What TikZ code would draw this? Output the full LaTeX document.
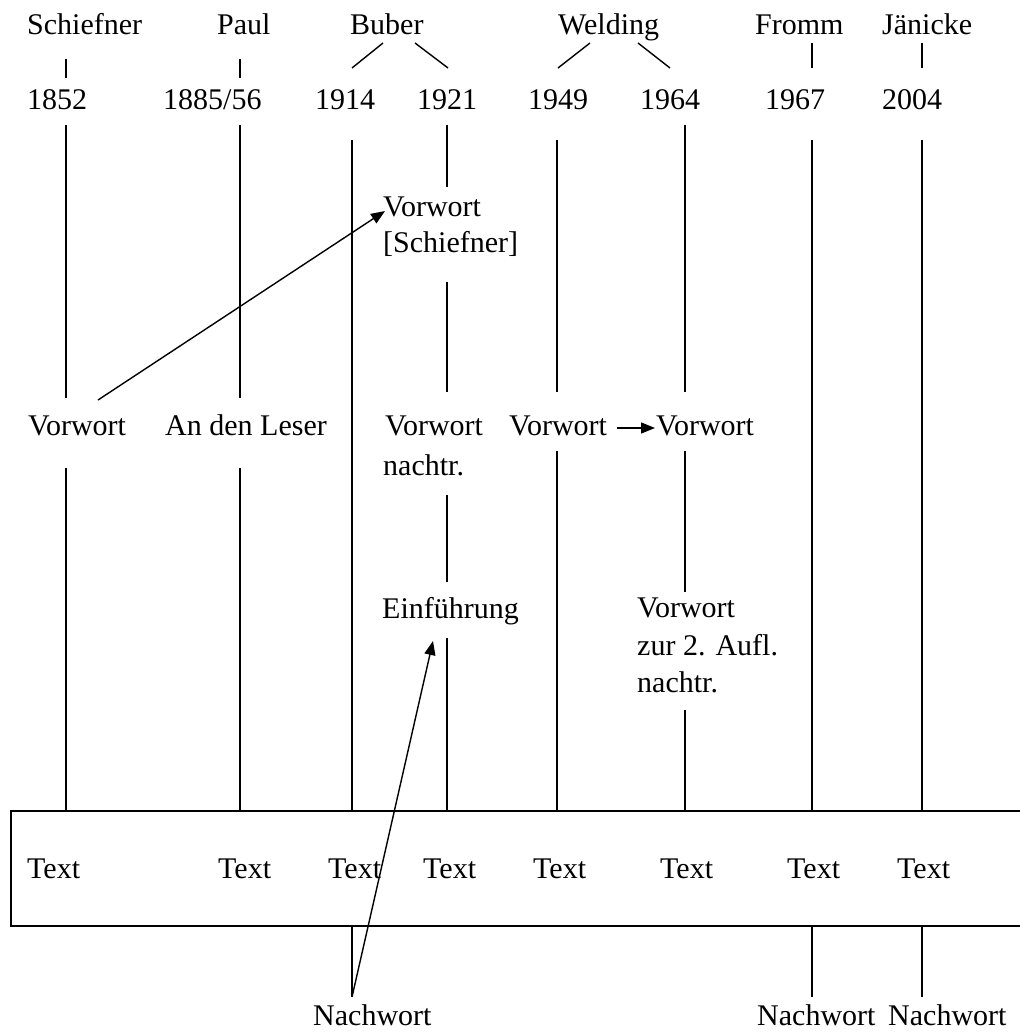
\documentclass[tikz,border=0pt]{standalone}
\usepackage{fontspec}
\setmainfont{Liberation Serif}
\usetikzlibrary{arrows.meta}
\begin{document}
\begin{tikzpicture}[x=1pt,y=-1pt,
  every node/.style={inner sep=0pt, anchor=base west, font=\fontsize{30}{36}\selectfont},
  ln/.style={line width=1.4pt},
  arr/.style={line width=1.4pt, -{Triangle[length=14pt,width=11pt]}},
  boxst/.style={draw, line width=1.6pt, minimum width=1030pt, minimum height=115pt, anchor=north west}]
\useasboundingbox (0,0) rectangle (1019,1032);
% names
\node (nSchiefner) at (27,35) {Schiefner};
\node (nPaul) at (217,35) {Paul};
\node (nBuber) at (350,35) {Buber};
\node (nWelding) at (558,35) {Welding};
\node (nFromm) at (755,35) {Fromm};
\node (nJaenicke) at (882,35) {Jänicke};
% years
\node (y1852) at (27,110) {1852};
\node (y1885) at (163,110) {1885/56};
\node (y1914) at (315,110) {1914};
\node (y1921) at (417,110) {1921};
\node (y1949) at (528,110) {1949};
\node (y1964) at (640,110) {1964};
\node (y1967) at (765,110) {1967};
\node (y2004) at (882,110) {2004};
% ticks and branches
\draw[ln] (66,59) -- (66,78);
\draw[ln] (240,59) -- (240,78);
\draw[ln] (812,43) -- (812,68);
\draw[ln] (922,43) -- (922,68);
\draw[ln] (383,43) -- (352,68);
\draw[ln] (415,43) -- (448,68);
\draw[ln] (590,43) -- (558,68);
\draw[ln] (638,43) -- (670,68);
% middle texts
\node (vs1) at (383,217) {Vorwort};
\node (vs2) at (383,252) {[Schiefner]};
\node (v1) at (28,435) {Vorwort};
\node (leser) at (165,435) {An den Leser};
\node (v4a) at (385,435) {Vorwort};
\node (v4b) at (383,475) {nachtr.};
\node (v5) at (509,435) {Vorwort};
\node (v6) at (656,435) {Vorwort};
\node (einf) at (382,618) {Einführung};
\node (z1) at (637,617) {Vorwort};
\node (z2) at (637,655) {zur 2. Aufl.};
\node (z3) at (637,692) {nachtr.};
% vertical lines
\draw[ln] (66,125) -- (66,398);  \draw[ln] (66,468) -- (66,810);
\draw[ln] (240,125) -- (240,398); \draw[ln] (240,468) -- (240,810);
\draw[ln] (352,140) -- (352,810); \draw[ln] (352,925) -- (352,997);
\draw[ln] (447,125) -- (447,187); \draw[ln] (447,282) -- (447,392);
\draw[ln] (447,495) -- (447,582); \draw[ln] (447,638) -- (447,810);
\draw[ln] (557,140) -- (557,392); \draw[ln] (557,451) -- (557,810);
\draw[ln] (685,125) -- (685,392); \draw[ln] (685,451) -- (685,592);
\draw[ln] (685,710) -- (685,810);
\draw[ln] (812,140) -- (812,810); \draw[ln] (812,925) -- (812,997);
\draw[ln] (922,140) -- (922,810); \draw[ln] (922,925) -- (922,997);
% box
\node[boxst] (box) at (10,810) {};
\node (t1) at (27,878) {Text};
\node (t2) at (218,878) {Text};
\node (t3) at (328,878) {Text};
\node (t4) at (423,878) {Text};
\node (t5) at (533,878) {Text};
\node (t6) at (660,878) {Text};
\node (t7) at (787,878) {Text};
\node (t8) at (897,878) {Text};
% Nachwort
\node (nw1) at (313,1025) {Nachwort};
\node (nw2) at (757,1025) {Nachwort};
\node (nw3) at (888,1025) {Nachwort};
% arrows
\coordinate (a1s) at (98,400);
\coordinate (a1e) at (385,211);
\draw[arr] (a1s) -- (a1e);
\coordinate (a2s) at (617,428);
\coordinate (a2e) at (655,428);
\draw[arr] (a2s) -- (a2e);
\coordinate (a3s) at (352,997);
\coordinate (a3e) at (433,641);
\draw[arr] (a3s) -- (a3e);
\end{tikzpicture}
\end{document}
